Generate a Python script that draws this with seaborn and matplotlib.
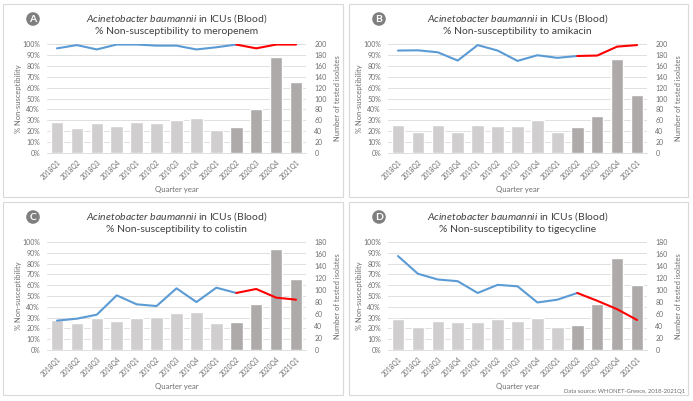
import numpy as np
import pandas as pd
import matplotlib
matplotlib.use("Agg")
import matplotlib.pyplot as plt
import seaborn as sns
from matplotlib.patches import FancyBboxPatch
from matplotlib.ticker import PercentFormatter, MultipleLocator

# ---------------- data ----------------
periods = ["2018Q1", "2018Q2", "2018Q3", "2018Q4", "2019Q1", "2019Q2", "2019Q3",
           "2019Q4", "2020Q1", "2020Q2", "2020Q3", "2020Q4", "2021Q1"]
split_period = "2020Q2"   # from here on: darker bars, red line

drugs = ["meropenem", "amikacin", "colistin", "tigecycline"]
letters = ["A", "B", "C", "D"]

pct_A = [96, 99, 95, 99.5, 99.5, 98.5, 98.5, 95, 97, 99.5, 96, 99.5, 99.5]
cnt_A = [56, 46, 55, 49, 56, 55, 61, 64, 43, 48, 81, 177, 130]

pct_B = [94, 94.2, 92.4, 84.8, 99, 94, 84.5, 89.7, 87.3, 89, 89.4, 97.6, 99]
cnt_B = [51, 38, 51, 38, 51, 50, 49, 60, 39, 47, 67, 172, 107]

pct_C = [27.2, 29, 32.7, 50.6, 42.3, 40.7, 57.1, 44.4, 57.7, 52.8, 56.5, 48.5, 46.6]
cnt_C = [50, 45, 54, 49, 53, 55, 61, 64, 45, 47, 77, 168, 118]

pct_D = [87, 70.6, 65.3, 63.7, 52.8, 60.3, 59, 44, 46.6, 52.8, 45.6, 37.8, 27.8]
cnt_D = [51, 39, 49, 46, 46, 51, 49, 54, 38, 41, 77, 154, 108]

right_max = [200, 200, 180, 180]
pcts = [pct_A, pct_B, pct_C, pct_D]
cnts = [cnt_A, cnt_B, cnt_C, cnt_D]

# ---------------- style ----------------
sns.set_theme(style="white")
plt.rcParams["font.family"] = ["Lato", "DejaVu Sans"]
plt.rcParams["mathtext.fontset"] = "custom"
plt.rcParams["mathtext.it"] = "Lato:italic"
plt.rcParams["mathtext.rm"] = "Lato"

LIGHT = "#D0CECE"
DARK = "#AEAAAA"
BLUE = "#5B9BD5"
RED = "#FF0000"
GRID = "#D9D9D9"
TXT = "#6E6E6E"
TITLE = "#404040"

W, H = 693, 401
fig = plt.figure(figsize=(W / 100, H / 100), dpi=100)
fig.patch.set_facecolor("white")

def fx(px):
    return px / W

def fy(py):
    return 1 - py / H

# panel geometry in pixels: (box x0, y0, x1, y1, axes left, top, bottom)
geom = [
    (3, 4, 343, 197, 47, 44, 153),
    (349, 4, 688, 197, 388, 44, 153),
    (3, 202, 343, 395, 47, 242, 350),
    (349, 202, 688, 395, 388, 242, 350),
]
AX_W = 259

split_idx = periods.index(split_period)

for k in range(4):
    bx0, by0, bx1, by1, l, t, b = geom[k]
    # panel frame
    fig.patches.append(FancyBboxPatch((fx(bx0), fy(by1)), fx(bx1) - fx(bx0), fy(by0) - fy(by1),
                                      boxstyle="square,pad=0", transform=fig.transFigure,
                                      fc="white", ec="#D9D9D9", lw=0.8, zorder=0))
    df = pd.DataFrame({"period": periods, "pct": pcts[k], "count": cnts[k]})
    df["pos"] = np.arange(len(periods))
    colors = [LIGHT if i < split_idx else DARK for i in range(len(periods))]

    rect = [fx(l), fy(b), AX_W / W, (b - t) / H]
    ax = fig.add_axes(rect, zorder=1)
    ax.set_ylim(0, 100)
    ax.yaxis.set_major_locator(MultipleLocator(10))
    ax.yaxis.set_major_formatter(PercentFormatter(decimals=0))
    ax.grid(axis="y", color=GRID, lw=0.6)
    ax.grid(axis="x", visible=False)
    for s in ["top", "right", "left"]:
        ax.spines[s].set_visible(False)
    ax.spines["bottom"].set_color(GRID)
    ax.spines["bottom"].set_linewidth(0.6)

    # bars (right axis)
    ax2 = ax.twinx()
    ax2.set_zorder(2)
    ax2.patch.set_visible(False)
    sns.barplot(data=df, x="period", y="count", hue="period", palette=colors,
                width=0.63, saturation=1, legend=False, ax=ax2, order=periods)
    ax2.set_ylim(0, right_max[k])
    ax2.yaxis.set_major_locator(MultipleLocator(20))
    for s in ax2.spines.values():
        s.set_visible(False)
    ax2.tick_params(axis="y", length=0, pad=6, labelsize=5, labelcolor=TXT)
    ax2.set_xlabel("")
    ax2.set_ylabel("Number of tested isolates", fontsize=5.4, color=TXT, labelpad=5)

    # line (percent axis)
    ax3 = fig.add_axes(rect, zorder=3)
    ax3.patch.set_visible(False)
    sns.lineplot(data=df.iloc[: split_idx + 1], x="pos", y="pct", color=BLUE, lw=1.5, ax=ax3)
    sns.lineplot(data=df.iloc[split_idx:], x="pos", y="pct", color=RED, lw=1.5, ax=ax3)
    ax3.set_ylim(0, 100)
    ax3.set_xlim(-0.5, len(periods) - 0.5)
    ax3.axis("off")

    ax.set_xlim(-0.5, len(periods) - 0.5)
    ax.set_xticks(np.arange(len(periods)))
    ax.set_xticklabels(periods, rotation=45, ha="right", rotation_mode="anchor")
    ax.tick_params(axis="x", length=0, pad=4, labelsize=4.8, labelcolor=TXT)
    ax.tick_params(axis="y", length=0, pad=5, labelsize=5, labelcolor=TXT)
    ax.set_ylabel("% Non-susceptibility", fontsize=5.4, color=TXT, labelpad=0)
    ax.set_xlabel("Quarter year", fontsize=5.6, color=TXT, labelpad=4)

    cx = l + AX_W / 2
    fig.text(fx(cx), fy(by0 + 15), r"$\it{Acinetobacter\ baumannii}$ in ICUs (Blood)",
             ha="center", va="center", fontsize=7.5, color=TITLE)
    fig.text(fx(cx), fy(by0 + 28), "% Non-susceptibility to " + drugs[k],
             ha="center", va="center", fontsize=7.5, color=TITLE)
    fig.text(fx(bx0 + 30), fy(by0 + 15), letters[k], ha="center", va="center",
             fontsize=7.5, color="white", fontweight="bold",
             bbox=dict(boxstyle="circle,pad=0.22", fc="#7F7F7F", ec="none"))

fig.text(fx(685), fy(391), "Data source: WHONET-Greece, 2018-2021Q1", ha="right",
         va="center", fontsize=4.2, color=TXT)

fig.savefig("out.png", dpi=100, facecolor="white")
